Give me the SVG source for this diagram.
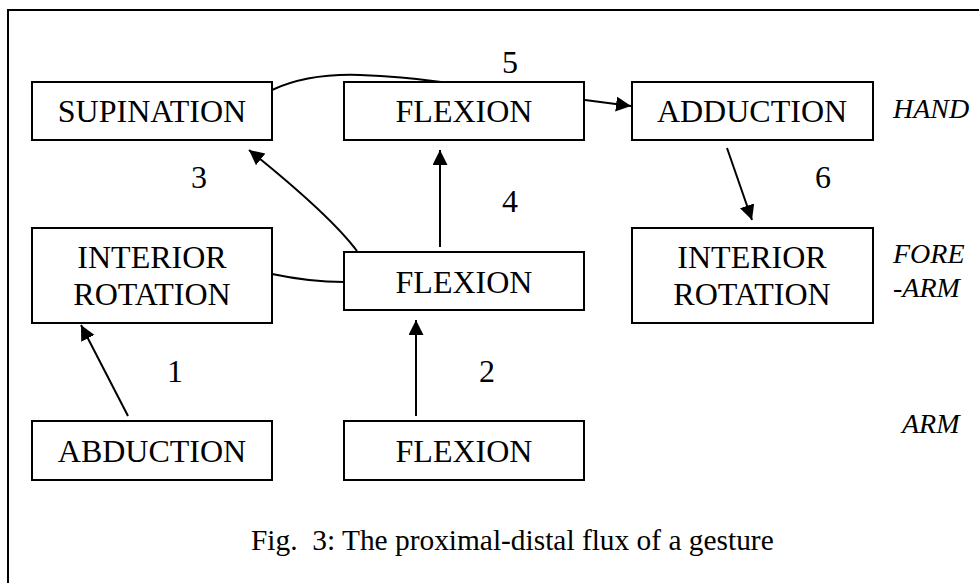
<svg xmlns="http://www.w3.org/2000/svg" width="979" height="583" viewBox="0 0 979 583">
<style>
text{font-family:'Liberation Serif','Tinos','DejaVu Serif',serif;fill:#000}
.box{fill:#fff;stroke:#000;stroke-width:2}
.lbl{font-size:32px;text-anchor:middle}
.num{font-size:32px;text-anchor:middle}
.side{font-size:28px;font-style:italic}
.cap{font-size:29.4px}
.con{fill:none;stroke:#000;stroke-width:2}
</style>
<defs>
<marker id="ah" markerUnits="userSpaceOnUse" markerWidth="16" markerHeight="16" refX="15" refY="7.5" orient="auto" viewBox="0 0 16 16">
<path d="M0,0 L15,7.5 L0,15 z" fill="#000"/>
</marker>
</defs>
<rect width="979" height="583" fill="#fff"/>
<path d="M8,583 V10 H979" fill="none" stroke="#000" stroke-width="2"/>

<g id="connectors">
<path class="con" d="M272,90 C300,77 330,74 360,75 C390,76 420,79 441,82"/>
<path class="con" d="M585,100 L631,106" marker-end="url(#ah)"/>
<path class="con" d="M357,251 Q330,215 249,150" marker-end="url(#ah)"/>
<path class="con" d="M440,247 L440,150" marker-end="url(#ah)"/>
<path class="con" d="M272,274 Q310,282 344,282"/>
<path class="con" d="M727,148 L752,220" marker-end="url(#ah)"/>
<path class="con" d="M128,416 L81,325" marker-end="url(#ah)"/>
<path class="con" d="M416,416 L416,320" marker-end="url(#ah)"/>
</g>

<g id="supination"><rect class="box" x="32" y="82" width="240" height="58"/><text class="lbl" x="152" y="122">SUPINATION</text></g>
<g id="flexion-hand"><rect class="box" x="344" y="82" width="240" height="58"/><text class="lbl" x="464" y="122">FLEXION</text></g>
<g id="adduction"><rect class="box" x="632" y="82" width="241" height="58"/><text class="lbl" x="752" y="122">ADDUCTION</text></g>
<g id="interior-rotation-left"><rect class="box" x="32" y="228" width="240" height="95"/><text class="lbl" x="152" y="268">INTERIOR</text><text class="lbl" x="152" y="305">ROTATION</text></g>
<g id="flexion-forearm"><rect class="box" x="344" y="252" width="240" height="58"/><text class="lbl" x="464" y="293">FLEXION</text></g>
<g id="interior-rotation-right"><rect class="box" x="632" y="228" width="241" height="95"/><text class="lbl" x="752" y="268">INTERIOR</text><text class="lbl" x="752" y="305">ROTATION</text></g>
<g id="abduction"><rect class="box" x="32" y="421" width="240" height="59"/><text class="lbl" x="152" y="462">ABDUCTION</text></g>
<g id="flexion-arm"><rect class="box" x="344" y="421" width="240" height="59"/><text class="lbl" x="464" y="462">FLEXION</text></g>

<g id="numbers">
<text class="num" x="510" y="73">5</text>
<text class="num" x="199" y="188">3</text>
<text class="num" x="510" y="212">4</text>
<text class="num" x="823" y="188">6</text>
<text class="num" x="175" y="382">1</text>
<text class="num" x="487" y="382">2</text>
</g>

<g id="levels">
<text class="side" x="893" y="118">HAND</text>
<text class="side" x="893" y="263">FORE</text>
<text class="side" x="893" y="297">-ARM</text>
<text class="side" x="902" y="433">ARM</text>
</g>

<text class="cap" x="251" y="550" xml:space="preserve">Fig.  3: The proximal-distal flux of a gesture</text>
</svg>
